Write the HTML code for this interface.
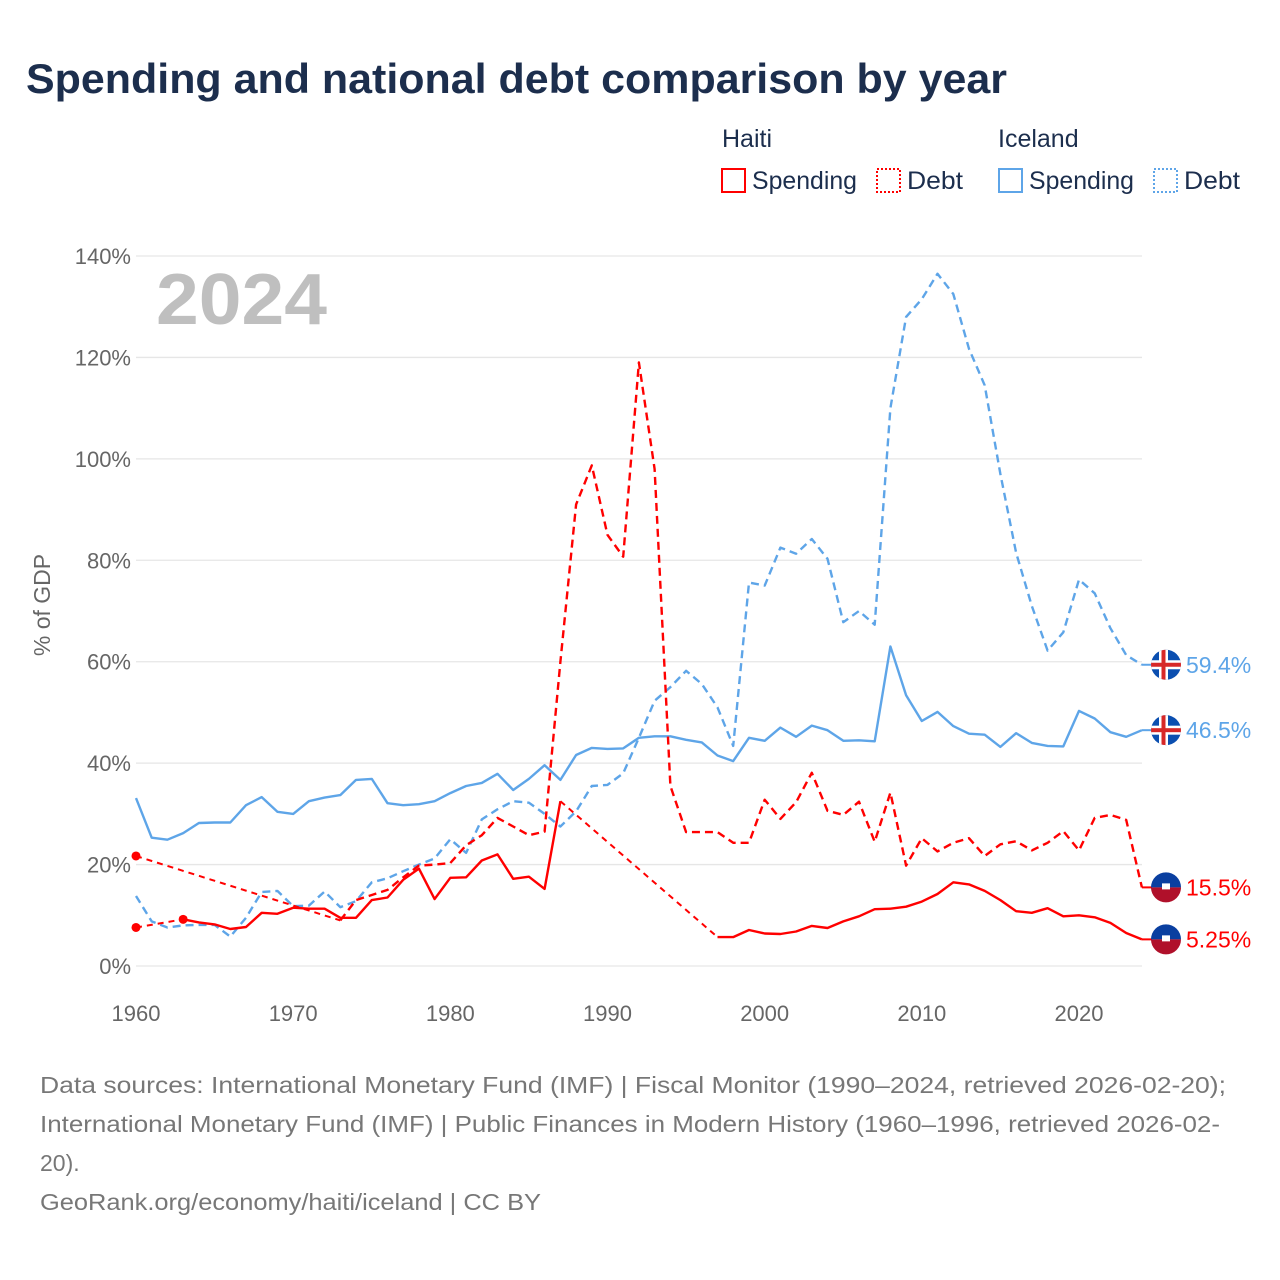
<!DOCTYPE html>
<html><head><meta charset="utf-8">
<style>
html,body{margin:0;padding:0;background:#fff;}
svg{display:block;font-family:"Liberation Sans",sans-serif;}
</style></head>
<body>
<svg id="chart" width="1280" height="1280" viewBox="0 0 1280 1280">
<text x="26" y="93" font-size="42" font-weight="bold" fill="#1c2e4d" textLength="981" lengthAdjust="spacingAndGlyphs">Spending and national debt comparison by year</text>
<g font-size="25" fill="#1c2e4d">
 <text x="722" y="147">Haiti</text>
 <text x="998" y="147">Iceland</text>
 <g><rect x="722" y="169" width="23" height="23" fill="none" stroke="#ff0000" stroke-width="2"/><text x="752" y="189" textLength="105" lengthAdjust="spacingAndGlyphs">Spending</text></g>
 <g><rect x="877" y="169" width="23" height="23" fill="none" stroke="#ff0000" stroke-width="2" stroke-dasharray="2,2"/><text x="907" y="189" textLength="56" lengthAdjust="spacingAndGlyphs">Debt</text></g>
 <g><rect x="999" y="169" width="23" height="23" fill="none" stroke="#5ea5e8" stroke-width="2"/><text x="1029" y="189" textLength="105" lengthAdjust="spacingAndGlyphs">Spending</text></g>
 <g><rect x="1154" y="169" width="23" height="23" fill="none" stroke="#5ea5e8" stroke-width="2" stroke-dasharray="2,2"/><text x="1184" y="189" textLength="56" lengthAdjust="spacingAndGlyphs">Debt</text></g>
</g>
<g id="grid"></g>
<text x="156" y="324" font-size="72" font-weight="bold" fill="#bfbfbf" textLength="171" lengthAdjust="spacingAndGlyphs">2024</text>
<text transform="translate(50,605) rotate(-90)" text-anchor="middle" font-size="23" fill="#666">% of GDP</text>
<g id="series"></g>
<g id="labels"></g>
<g font-size="23" fill="#777">
 <text x="40" y="1093" textLength="1186" lengthAdjust="spacingAndGlyphs">Data sources: International Monetary Fund (IMF) | Fiscal Monitor (1990–2024, retrieved 2026-02-20);</text>
 <text x="40" y="1132" textLength="1180" lengthAdjust="spacingAndGlyphs">International Monetary Fund (IMF) | Public Finances in Modern History (1960–1996, retrieved 2026-02-</text>
 <text x="40" y="1171">20).</text>
 <text x="40" y="1210" textLength="501" lengthAdjust="spacingAndGlyphs">GeoRank.org/economy/haiti/iceland | CC BY</text>
</g>
</svg>
<script>
const years = [];
for (let y = 1960; y <= 2024; y++) years.push(y);
const yTicks = [0,20,40,60,80,100,120,140];
const xTicks = [1960,1970,1980,1990,2000,2010,2020];
const N = null;
const icelandSpending = [33.1,25.3,24.9,26.2,28.2,28.3,28.3,31.7,33.3,30.4,30.0,32.5,33.2,33.7,36.7,36.9,32.1,31.7,31.9,32.5,34.1,35.5,36.1,37.9,34.7,36.9,39.6,36.7,41.6,43.0,42.8,42.9,45.0,45.3,45.3,44.6,44.1,41.5,40.4,45.0,44.4,47.0,45.2,47.4,46.5,44.4,44.5,44.3,63.0,53.4,48.3,50.1,47.3,45.8,45.6,43.2,45.9,44.0,43.4,43.3,50.3,48.8,46.1,45.2,46.5];
const icelandDebt = [13.8,8.8,7.6,8.0,8.1,8.1,5.8,9.5,14.6,14.8,11.8,11.9,14.7,11.6,12.8,16.5,17.3,18.7,20.0,21.2,25.0,22.3,28.9,30.9,32.5,32.2,30.0,27.5,30.5,35.5,35.7,38.0,45.0,52.3,55.0,58.2,55.6,51.0,43.4,75.6,75.0,82.5,81.3,84.2,80.3,67.8,70.0,67.3,110.0,128.0,131.5,136.5,132.5,121.7,114.5,97.0,81.5,71.0,62.2,65.8,76.2,73.5,66.6,61.3,59.4];
const haitiSpending = [7.6,N,N,9.2,8.6,8.2,7.3,7.7,10.5,10.3,11.5,11.3,11.3,9.5,9.5,13.0,13.5,17.0,19.2,13.2,17.4,17.5,20.8,22.0,17.2,17.6,15.2,32.5,N,N,N,N,N,N,N,N,N,5.7,5.7,7.1,6.4,6.3,6.8,7.9,7.5,8.8,9.8,11.2,11.3,11.7,12.7,14.2,16.5,16.1,14.8,13.0,10.8,10.5,11.4,9.8,10.0,9.6,8.5,6.5,5.25];
const haitiDebt = [21.7,N,N,N,N,N,N,N,N,N,N,N,N,9.0,13.0,14.0,15.0,17.5,19.8,20.0,20.3,23.8,25.8,29.2,27.5,25.8,26.5,60.0,91.0,98.7,85.0,80.7,119.0,98.0,35.5,26.4,26.4,26.4,24.3,24.3,32.8,29.0,32.3,38.1,30.6,29.8,32.4,24.5,34.2,19.8,25.2,22.6,24.3,25.2,21.7,24.0,24.6,22.8,24.3,26.6,22.8,29.2,29.8,28.8,15.5];
const seriesLabels = ["59.4%","46.5%","15.5%","5.25%"];

const ns = "http://www.w3.org/2000/svg";
const X = yr => 136 + (yr - 1960) * (1079 - 136) / 60;
const Y = v => 966 - v * (966 - 256) / 140;
function el(tag, attrs, parent) {
  const e = document.createElementNS(ns, tag);
  for (const k in attrs) e.setAttribute(k, attrs[k]);
  parent.appendChild(e);
  return e;
}
const grid = document.getElementById('grid');
yTicks.forEach(t => {
  const l = el('line', {x1:136, x2:1142, y1:Y(t), y2:Y(t), stroke:'#e6e6e6', 'stroke-width':1.3}, grid);
  
  
  const tx = el('text', {x:131, y:Y(t)+8, 'text-anchor':'end', 'font-size':22, fill:'#666'}, grid);
  tx.textContent = t + '%';
  
  
});
xTicks.forEach(t => {
  const tx = el('text', {x:X(t), y:1021, 'text-anchor':'middle', 'font-size':22, fill:'#666'}, grid);
  tx.textContent = t;
  
  
});
const sg = document.getElementById('series');
function drawSeries(vals, color, dashed, name) {
  const g = el('g', {}, sg);
  
  
  let d = '', bridge = '', prev = null;
  vals.forEach((v, i) => {
    if (v === null) return;
    const px = X(years[i]).toFixed(1), py = Y(v).toFixed(1);
    if (prev !== null && prev.i === i - 1) d += ' L' + px + ' ' + py;
    else {
      if (prev !== null) bridge += ' M' + prev.x + ' ' + prev.y + ' L' + px + ' ' + py;
      d += ' M' + px + ' ' + py;
    }
    prev = {i, x: px, y: py};
  });
  if (bridge) el('path', {d: bridge, fill:'none', stroke:color, 'stroke-width':2, 'stroke-dasharray':'6,5'}, g);
  const a = {d, fill:'none', stroke:color, 'stroke-width':2.4, 'stroke-linejoin':'round'};
  if (dashed) a['stroke-dasharray'] = '8,5';
  el('path', a, g);
  return g;
}
drawSeries(icelandSpending, '#5ea5e8', false, 'iceland-spending-line');
drawSeries(icelandDebt, '#5ea5e8', true, 'iceland-debt-line');
const hs = drawSeries(haitiSpending, '#ff0000', false, 'haiti-spending-line');
const hd = drawSeries(haitiDebt, '#ff0000', true, 'haiti-debt-line');
[[haitiSpending,0,hs],[haitiSpending,3,hs],[haitiDebt,0,hd]].forEach(p => {
  const c = el('circle', {cx:X(years[p[1]]), cy:Y(p[0][p[1]]), r:4.5, fill:'#ff0000'}, p[2]);
  
  
});
const lg = document.getElementById('labels');
const last = years.length - 1;
const ends = [[icelandDebt,'#5ea5e8','iceland'],[icelandSpending,'#5ea5e8','iceland'],[haitiDebt,'#ff0000','haiti'],[haitiSpending,'#ff0000','haiti']];
ends.forEach((e, k) => {
  const cy = Y(e[0][last]), cx = 1166;
  const g = el('g', {}, lg);
  
  
  el('line', {x1:X(2024), x2:cx-14, y1:cy, y2:cy, stroke:e[1], 'stroke-width':2}, g);
  const cp = 'clip' + k;
  const cl = el('clipPath', {id: cp}, g);
  el('circle', {cx, cy, r:15}, cl);
  const fg = el('g', {'clip-path':'url(#' + cp + ')'}, g);
  if (e[2] === 'iceland') {
    el('rect', {x:cx-16, y:cy-16, width:32, height:32, fill:'#0b4fb0'}, fg);
    el('rect', {x:cx-16, y:cy-4.5, width:32, height:9, fill:'#fff'}, fg);
    el('rect', {x:cx-7, y:cy-16, width:9, height:32, fill:'#fff'}, fg);
    el('rect', {x:cx-16, y:cy-2, width:32, height:4, fill:'#d72828'}, fg);
    el('rect', {x:cx-4.5, y:cy-16, width:4, height:32, fill:'#d72828'}, fg);
  } else {
    el('rect', {x:cx-16, y:cy-16, width:32, height:16, fill:'#0a3fa0'}, fg);
    el('rect', {x:cx-16, y:cy, width:32, height:16, fill:'#b0102a'}, fg);
    el('rect', {x:cx-4, y:cy-4, width:8, height:6, fill:'#fff'}, fg);
  }
  const t = el('text', {x:1186, y:cy+8, 'font-size':23, fill:e[1]}, g);
  t.textContent = seriesLabels[k];
});
</script>
</body></html>
